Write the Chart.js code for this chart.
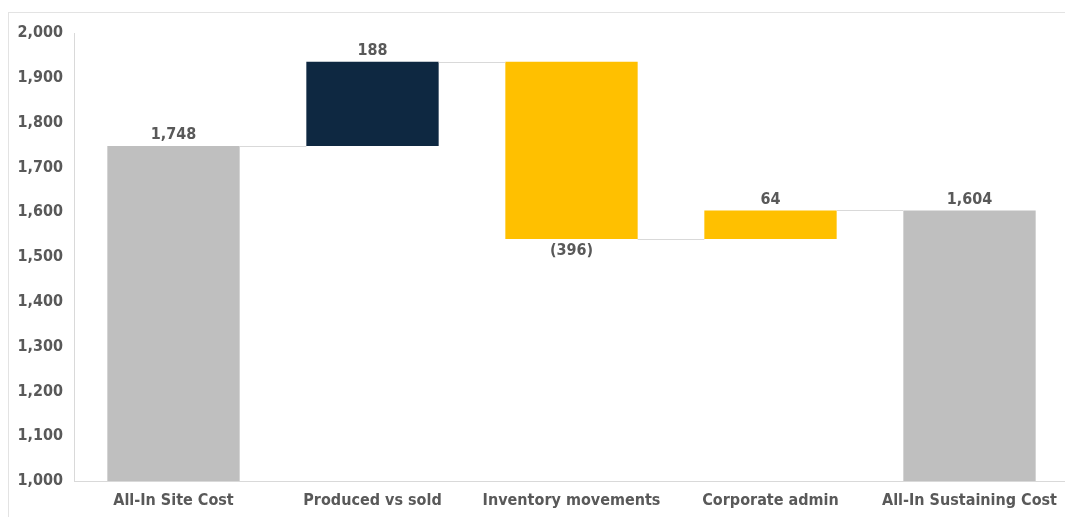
<!DOCTYPE html>
<html>
<head>
<meta charset="utf-8">
<script src="https://cdn.jsdelivr.net/npm/chart.js@4.4.1/dist/chart.umd.min.js"></script>
<style>
    html, body { margin: 0; padding: 0; background: #fff; }
    #wrap { position: relative; width: 1065px; height: 517px; overflow: hidden; }
    #frame { position: absolute; left: 8px; top: 12px; width: 1100px; height: 600px; border: 1px solid #e3e3e3; box-sizing: border-box; }
    #box { position: absolute; left: 0; top: 0; width: 1069px; height: 517px; }
</style>
</head>
<body>
<div id="wrap">
    <div id="frame"></div>
    <div id="box"><canvas id="chart"></canvas></div>
</div>
<script>
const categories = ['All-In Site Cost', 'Produced vs sold', 'Inventory movements', 'Corporate admin', 'All-In Sustaining Cost'];
// total bars carry their level, step bars carry the change
const values = [1748, 188, -396, 64, 1604];
const kinds = ['total', 'step', 'step', 'step', 'total'];
const yTicks = [1000, 1100, 1200, 1300, 1400, 1500, 1600, 1700, 1800, 1900, 2000];

const FONT = "'Liberation Sans Narrow', 'DejaVu Sans Condensed', sans-serif";
const TEXT = '#595959';
const BASE = yTicks[0];

// floating ranges for the waterfall
let running = 0;
const ranges = values.map((v, i) => {
    if (kinds[i] === 'total') {
        running = v;
        return [BASE, v];
    }
    const start = running;
    running += v;
    return [Math.min(start, running), Math.max(start, running)];
});
const levels = values.map((v, i) => ranges[i][values[i] < 0 ? 0 : 1]);
const colors = values.map((v, i) => kinds[i] === 'total' ? '#bfbfbf' : (i === 1 ? '#0e2841' : '#ffc000'));

const fmt = (v, kind) => {
    const s = Math.abs(v).toLocaleString('en-US');
    return v < 0 ? `(${s})` : s;
};

const waterfallExtras = {
    id: 'waterfallExtras',
    afterDatasetsDraw(chart) {
        const {ctx, scales: {y}} = chart;
        const bars = chart.getDatasetMeta(0).data;
        ctx.save();
        // connectors
        ctx.strokeStyle = '#d9d9d9';
        ctx.lineWidth = 1;
        for (let i = 0; i < bars.length - 1; i++) {
            const yy = Math.round(y.getPixelForValue(levels[i])) + 0.5;
            ctx.beginPath();
            ctx.moveTo(bars[i].x + bars[i].width / 2, yy);
            ctx.lineTo(bars[i + 1].x - bars[i + 1].width / 2, yy);
            ctx.stroke();
        }
        // labels
        ctx.fillStyle = TEXT;
        ctx.font = `bold 16px ${FONT}`;
        ctx.textAlign = 'center';
        bars.forEach((b, i) => {
            const v = values[i];
            if (v < 0) {
                ctx.textBaseline = 'top';
                ctx.fillText(fmt(v), b.x, y.getPixelForValue(ranges[i][0]) + 4);
            } else {
                ctx.textBaseline = 'bottom';
                ctx.fillText(fmt(v), b.x, y.getPixelForValue(ranges[i][1]) - 3);
            }
        });
        ctx.restore();
    }
};

new Chart(document.getElementById('chart'), {
    type: 'bar',
    data: {
        labels: categories,
        datasets: [{
            data: ranges,
            backgroundColor: colors,
            borderWidth: 0,
            borderSkipped: false,
            categoryPercentage: 1,
            barPercentage: 0.665,
        }]
    },
    options: {
        responsive: true,
        maintainAspectRatio: false,
        animation: false,
        layout: {padding: {top: 33, left: 0, right: 0, bottom: 0}},
        plugins: {legend: {display: false}, tooltip: {enabled: false}},
        scales: {
            x: {
                grid: {display: false, drawTicks: false},
                border: {color: '#d9d9d9', width: 1},
                ticks: {color: TEXT, font: {family: FONT, size: 16, weight: 'bold'}, padding: 10, maxRotation: 0},
                afterFit: (s) => { s.height = 36; }
            },
            y: {
                min: 1000,
                max: 2000,
                grid: {display: false, drawTicks: false},
                border: {color: '#d9d9d9', width: 1},
                afterBuildTicks: (s) => { s.ticks = yTicks.map(v => ({value: v})); },
                ticks: {
                    color: TEXT,
                    font: {family: FONT, size: 16, weight: 'bold'},
                    padding: 11,
                    callback: (v) => Number(v).toLocaleString('en-US')
                },
                afterFit: (s) => { s.width = 74; }
            }
        }
    },
    plugins: [waterfallExtras]
});
</script>
</body>
</html>
